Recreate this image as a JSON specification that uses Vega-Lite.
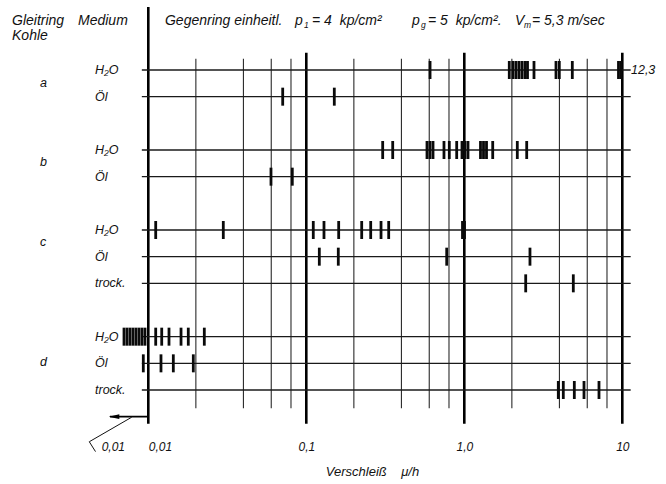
{
  "$schema": "https://vega.github.io/schema/vega-lite/v6.json",
  "width": 666,
  "height": 436,
  "autosize": {"type": "none"},
  "padding": {"left": 0, "top": 0, "right": 0, "bottom": 48},
  "background": "white",
  "config": {"view": {"stroke": null}, "font": "Liberation Sans"},
  "datasets": {
    "minor": [{"v": 0.02}, {"v": 0.04}, {"v": 0.06}, {"v": 0.08}, {"v": 0.2}, {"v": 0.4}, {"v": 0.6}, {"v": 0.8}, {"v": 2}, {"v": 4}, {"v": 6}, {"v": 8}],
    "major": [{"v": 0.1}, {"v": 1}, {"v": 10}],
    "rows": [{"row": 0}, {"row": 1}, {"row": 3}, {"row": 4}, {"row": 6}, {"row": 7}, {"row": 8}, {"row": 10}, {"row": 11}, {"row": 12}],
    "ticks": [
      {"row": 0, "v": 0.607}, {"row": 0, "v": 1.926}, {"row": 0, "v": 2.033}, {"row": 0, "v": 2.124}, {"row": 0, "v": 2.219}, {"row": 0, "v": 2.319}, {"row": 0, "v": 2.423}, {"row": 0, "v": 2.512}, {"row": 0, "v": 2.761}, {"row": 0, "v": 3.805}, {"row": 0, "v": 3.993}, {"row": 0, "v": 4.826}, {"row": 0, "v": 9.46}, {"row": 0, "v": 9.81},
      {"row": 1, "v": 0.0709}, {"row": 1, "v": 0.1504},
      {"row": 3, "v": 0.3044}, {"row": 3, "v": 0.3523}, {"row": 3, "v": 0.5807}, {"row": 3, "v": 0.6066}, {"row": 3, "v": 0.6338}, {"row": 3, "v": 0.7437}, {"row": 3, "v": 0.8037}, {"row": 3, "v": 0.8951}, {"row": 3, "v": 0.967}, {"row": 3, "v": 1.0102}, {"row": 3, "v": 1.0554}, {"row": 3, "v": 1.266}, {"row": 3, "v": 1.323}, {"row": 3, "v": 1.382}, {"row": 3, "v": 1.513}, {"row": 3, "v": 2.165}, {"row": 3, "v": 2.483},
      {"row": 4, "v": 0.05977}, {"row": 4, "v": 0.08154},
      {"row": 6, "v": 0.01114}, {"row": 6, "v": 0.02983}, {"row": 6, "v": 0.1107}, {"row": 6, "v": 0.1294}, {"row": 6, "v": 0.1603}, {"row": 6, "v": 0.2242}, {"row": 6, "v": 0.2556}, {"row": 6, "v": 0.2971}, {"row": 6, "v": 0.3323}, {"row": 6, "v": 0.974}, {"row": 6, "v": 1.003},
      {"row": 7, "v": 0.1209}, {"row": 7, "v": 0.1594}, {"row": 7, "v": 0.7739}, {"row": 7, "v": 2.604},
      {"row": 8, "v": 2.447}, {"row": 8, "v": 4.897},
      {"row": 10, "v": 0.007019}, {"row": 10, "v": 0.007332}, {"row": 10, "v": 0.00766}, {"row": 10, "v": 0.008002}, {"row": 10, "v": 0.008358}, {"row": 10, "v": 0.008732}, {"row": 10, "v": 0.009123}, {"row": 10, "v": 0.009531}, {"row": 10, "v": 0.01114}, {"row": 10, "v": 0.01216}, {"row": 10, "v": 0.01352}, {"row": 10, "v": 0.01611}, {"row": 10, "v": 0.01791}, {"row": 10, "v": 0.02262},
      {"row": 11, "v": 0.009298}, {"row": 11, "v": 0.01203}, {"row": 11, "v": 0.0144}, {"row": 11, "v": 0.01927},
      {"row": 12, "v": 3.935}, {"row": 12, "v": 4.232}, {"row": 12, "v": 4.97}, {"row": 12, "v": 5.723}, {"row": 12, "v": 7.12}
    ],
    "header": [
      {"text": "Gleitring", "v": 0.001372, "r": -1.84},
      {"text": "Kohle", "v": 0.001372, "r": -1.27},
      {"text": "Medium", "v": 0.00359, "r": -1.84},
      {"text": "Gegenring einheitl.", "v": 0.01275, "r": -1.84},
      {"text": "p", "v": 0.0848, "r": -1.84},
      {"text": "= 4\u00a0 kp/cm²", "v": 0.1087, "r": -1.84},
      {"text": "p", "v": 0.4667, "r": -1.84},
      {"text": "= 5\u00a0 kp/cm².", "v": 0.5893, "r": -1.84},
      {"text": "V", "v": 2.094, "r": -1.84},
      {"text": "= 5,3 m/sec", "v": 2.682, "r": -1.84}
    ],
    "labels": [
      {"text": "a", "v": 0.002064, "r": 0.48},
      {"text": "b", "v": 0.002064, "r": 3.44},
      {"text": "c", "v": 0.002064, "r": 6.44},
      {"text": "d", "v": 0.002064, "r": 10.94},
      {"text": "H₂O", "v": 0.0046, "r": 0},
      {"text": "Öl", "v": 0.0046, "r": 1},
      {"text": "H₂O", "v": 0.0046, "r": 3},
      {"text": "Öl", "v": 0.0046, "r": 4},
      {"text": "H₂O", "v": 0.0046, "r": 6},
      {"text": "Öl", "v": 0.0046, "r": 7},
      {"text": "trock.", "v": 0.0046, "r": 8},
      {"text": "H₂O", "v": 0.0046, "r": 10},
      {"text": "Öl", "v": 0.0046, "r": 11},
      {"text": "trock.", "v": 0.0046, "r": 12},
      {"text": "12,3", "v": 11.35, "r": 0}
    ],
    "subs": [
      {"text": "1", "v": 0.0967, "r": -1.84},
      {"text": "g", "v": 0.5322, "r": -1.84},
      {"text": "m", "v": 2.387, "r": -1.84}
    ],
    "below": [
      {"text": "0,01", "v": 0.006006, "r": 14.14}
    ]
  },
  "layer": [
    {
      "data": {"name": "minor"},
      "mark": {"type": "rule", "color": "#2a2a2a", "strokeWidth": 1.1},
      "encoding": {
        "x": {"field": "v", "type": "quantitative",
          "scale": {"type": "log", "domain": [0.01, 10], "range": [148.3, 622.3], "nice": false, "zero": false},
          "axis": {"values": [0.01, 0.1, 1, 10], "grid": false, "domain": false, "ticks": false, "tickSize": 0,
            "labelExpr": "datum.value < 0.05 ? '0,01' : datum.value < 0.5 ? '0,1' : datum.value < 5 ? '1,0' : '10'",
            "labelAlign": {"condition": {"test": "datum.value > 0.009 && datum.value < 0.011", "value": "left"}, "value": "center"},
            "labelFont": "Liberation Sans", "labelFontStyle": "italic", "labelFontSize": 12, "labelColor": "#111", "labelPadding": 5,
            "title": "Verschleiß\u00a0\u00a0\u00a0\u00a0μ/h", "titleFont": "Liberation Sans", "titleFontStyle": "italic", "titleFontWeight": "normal", "titleFontSize": 13, "titleColor": "#111", "titlePadding": 13, "titleX": 372}},
        "y": {"datum": -0.42, "type": "quantitative", "scale": {"domain": [0, 13], "range": [70, 416.67], "nice": false, "zero": false}, "axis": null},
        "y2": {"datum": 12.68}
      }
    },
    {
      "data": {"name": "major"},
      "mark": {"type": "rule", "color": "#000", "strokeWidth": 2.6},
      "encoding": {
        "x": {"field": "v", "type": "quantitative"},
        "y": {"datum": -0.65, "type": "quantitative", "axis": null},
        "y2": {"datum": 13.27}
      }
    },
    {
      "data": {"values": [{}]},
      "mark": {"type": "rule", "color": "#000", "strokeWidth": 2.6},
      "encoding": {
        "x": {"datum": 0.01, "type": "quantitative"},
        "y": {"datum": -2.36, "type": "quantitative", "axis": null},
        "y2": {"datum": 13.27}
      }
    },
    {
      "data": {"name": "rows"},
      "mark": {"type": "rule", "color": "#1a1a1a", "strokeWidth": 1.4},
      "encoding": {
        "x": {"datum": 0.0091, "type": "quantitative"},
        "x2": {"datum": 11.3},
        "y": {"field": "row", "type": "quantitative", "axis": null}
      }
    },
    {
      "data": {"name": "ticks"},
      "mark": {"type": "tick", "orient": "vertical", "color": "#0a0a0a", "size": 18, "thickness": 2.8, "opacity": 1},
      "encoding": {
        "x": {"field": "v", "type": "quantitative"},
        "y": {"field": "row", "type": "quantitative", "axis": null}
      }
    },
    {
      "data": {"values": [{}]},
      "mark": {"type": "rule", "color": "#000", "strokeWidth": 1.6},
      "encoding": {
        "x": {"datum": 0.01, "type": "quantitative"},
        "x2": {"datum": 0.00572},
        "y": {"datum": 13, "type": "quantitative", "axis": null}
      }
    },
    {
      "data": {"values": [{}]},
      "mark": {"type": "point", "shape": "M -1 0 L 1 -0.45 L 1 0.45 Z", "filled": true, "color": "#000", "size": 110, "opacity": 1},
      "encoding": {
        "x": {"datum": 0.00607, "type": "quantitative"},
        "y": {"datum": 13, "type": "quantitative", "axis": null}
      }
    },
    {
      "data": {"values": [{}]},
      "mark": {"type": "rule", "color": "#111", "strokeWidth": 1},
      "encoding": {
        "x": {"datum": 0.00785, "type": "quantitative"},
        "x2": {"datum": 0.004232},
        "y": {"datum": 13.02, "type": "quantitative", "axis": null},
        "y2": {"datum": 13.94}
      }
    },
    {
      "data": {"values": [{}]},
      "mark": {"type": "rule", "color": "#111", "strokeWidth": 1},
      "encoding": {
        "x": {"datum": 0.004232, "type": "quantitative"},
        "x2": {"datum": 0.004633},
        "y": {"datum": 13.94, "type": "quantitative", "axis": null},
        "y2": {"datum": 14.31}
      }
    },
    {
      "data": {"name": "header"},
      "mark": {"type": "text", "align": "left", "baseline": "middle", "font": "Liberation Sans", "fontStyle": "italic", "fontSize": 14, "color": "#111"},
      "encoding": {
        "x": {"field": "v", "type": "quantitative"},
        "y": {"field": "r", "type": "quantitative", "axis": null},
        "text": {"field": "text"}
      }
    },
    {
      "data": {"name": "labels"},
      "mark": {"type": "text", "align": "left", "baseline": "middle", "font": "Liberation Sans", "fontStyle": "italic", "fontSize": 12.5, "color": "#111"},
      "encoding": {
        "x": {"field": "v", "type": "quantitative"},
        "y": {"field": "r", "type": "quantitative", "axis": null},
        "text": {"field": "text"}
      }
    },
    {
      "data": {"name": "below"},
      "mark": {"type": "text", "align": "center", "baseline": "middle", "font": "Liberation Sans", "fontStyle": "italic", "fontSize": 12, "color": "#111"},
      "encoding": {
        "x": {"field": "v", "type": "quantitative"},
        "y": {"field": "r", "type": "quantitative", "axis": null},
        "text": {"field": "text"}
      }
    },
    {
      "data": {"name": "subs"},
      "mark": {"type": "text", "align": "left", "baseline": "middle", "dy": 4, "font": "Liberation Sans", "fontStyle": "italic", "fontSize": 8.5, "color": "#111"},
      "encoding": {
        "x": {"field": "v", "type": "quantitative"},
        "y": {"field": "r", "type": "quantitative", "axis": null},
        "text": {"field": "text"}
      }
    }
  ]
}
